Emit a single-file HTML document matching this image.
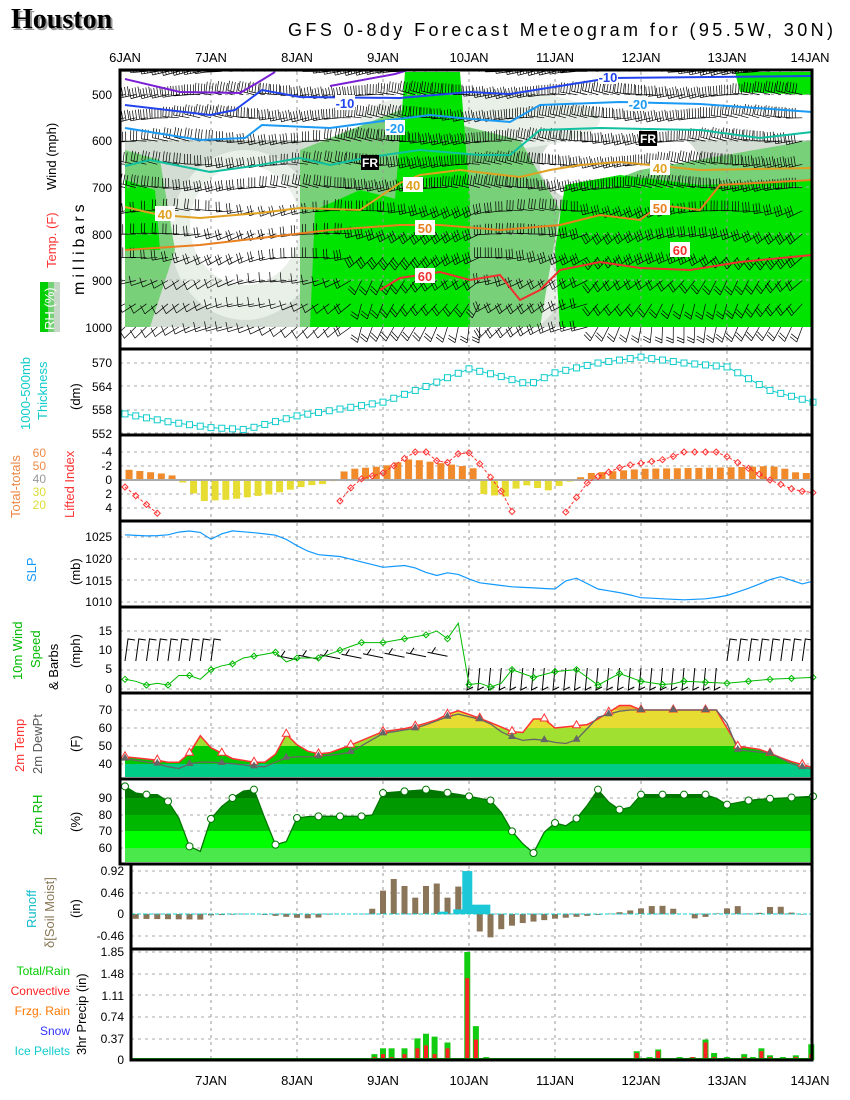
<!DOCTYPE html>
<html><head><meta charset="utf-8">
<style>
html,body{margin:0;padding:0;background:#fff;}
svg{display:block;font-family:"Liberation Sans",sans-serif;}
</style></head>
<body>
<svg id="s" width="850" height="1100" viewBox="0 0 850 1100" xmlns="http://www.w3.org/2000/svg">
<defs><clipPath id="ctop"><rect x="121" y="71" width="690" height="276"/></clipPath></defs>
<rect width="850" height="1100" fill="#fff"/>
<text x="13" y="30" font-family="Liberation Serif,serif" font-size="28" font-weight="bold" fill="#999">Houston</text>
<text x="11" y="28" font-family="Liberation Serif,serif" font-size="28" font-weight="bold" fill="#000">Houston</text>
<text x="288" y="36" font-size="18" fill="#000" textLength="545">GFS 0-8dy Forecast Meteogram for (95.5W, 30N)</text>
<g font-size="13" text-anchor="middle" fill="#000">
<text x="125" y="62">6JAN</text><text x="211" y="62">7JAN</text><text x="297" y="62">8JAN</text><text x="383" y="62">9JAN</text><text x="469" y="62">10JAN</text><text x="555" y="62">11JAN</text><text x="641" y="62">12JAN</text><text x="727" y="62">13JAN</text><text x="810" y="62">14JAN</text>
<text x="211" y="1085">7JAN</text><text x="297" y="1085">8JAN</text><text x="383" y="1085">9JAN</text><text x="469" y="1085">10JAN</text><text x="555" y="1085">11JAN</text><text x="641" y="1085">12JAN</text><text x="727" y="1085">13JAN</text><text x="810" y="1085">14JAN</text>
</g>
<g id="top">
<rect x="125" y="140" width="687" height="187" fill="#d3ddd3"/>
<ellipse cx="245" cy="235" rx="75" ry="85" fill="#e8f0e8"/>
<ellipse cx="245" cy="225" rx="55" ry="60" fill="#fff"/>
<ellipse cx="505" cy="290" rx="55" ry="45" fill="#e8f0e8"/>
<ellipse cx="505" cy="290" rx="35" ry="30" fill="#fff"/>
<ellipse cx="620" cy="165" rx="80" ry="45" fill="#fff"/>
<rect x="125" y="70" width="687" height="70" fill="#fff"/>
<ellipse cx="480" cy="120" rx="120" ry="30" fill="#e8f0e8"/>
<path d="M125,150 L160,160 L175,250 L150,327 L125,327Z" fill="#78d078"/>
<path d="M300,150 L400,110 L520,140 L560,210 L540,327 L300,327 Z" fill="#78d078"/>
<path d="M560,200 L640,170 L812,140 L812,327 L560,327Z" fill="#78d078"/>
<path d="M125,180 L155,190 L160,250 L125,250Z" fill="#00e400"/>
<path d="M405,72 L460,72 L470,200 L470,327 L400,327 L395,200Z" fill="#00e400"/>
<path d="M315,210 L360,190 L400,200 L400,327 L310,327Z" fill="#00e400"/>
<path d="M565,185 L620,175 L700,185 L812,180 L812,327 L560,327 L555,250Z" fill="#00e400"/>
<path d="M735,72 L812,72 L812,95 L740,92Z" fill="#00e400"/>
<rect x="120" y="327" width="692" height="22" fill="#fff"/>
</g>
<g id="dyn"></g>
<g id="frames" fill="none" stroke="#000" stroke-width="3">
<rect x="120" y="70" width="692" height="279"/>
<rect x="120" y="349" width="692" height="86"/>
<rect x="120" y="435" width="692" height="86"/>
<rect x="120" y="521" width="692" height="86"/>
<rect x="120" y="607" width="692" height="86"/>
<rect x="120" y="693" width="692" height="86"/>
<rect x="120" y="779" width="692" height="85"/>
<rect x="131" y="864" width="681" height="85"/>
<rect x="131" y="949" width="681" height="111"/>
</g>
<g font-size="12" text-anchor="end" fill="#000">
<text x="112" y="99">500</text><text x="112" y="145">600</text><text x="112" y="192">700</text><text x="112" y="239">800</text><text x="112" y="285">900</text><text x="112" y="332">1000</text>
<text x="112" y="367">570</text><text x="112" y="391">564</text><text x="112" y="414">558</text><text x="112" y="438">552</text>
<text x="112" y="456">-4</text><text x="112" y="470">-2</text><text x="112" y="484">0</text><text x="112" y="498">2</text><text x="112" y="512">4</text>
<text x="112" y="541">1025</text><text x="112" y="563">1020</text><text x="112" y="585">1015</text><text x="112" y="606">1010</text>
<text x="112" y="635">15</text><text x="112" y="654">10</text><text x="112" y="673">5</text><text x="112" y="693">0</text>
<text x="112" y="714">70</text><text x="112" y="732">60</text><text x="112" y="750">50</text><text x="112" y="768">40</text>
<text x="112" y="802">90</text><text x="112" y="819">80</text><text x="112" y="835">70</text><text x="112" y="852">60</text>
<text x="124" y="875">0.92</text><text x="124" y="897">0.46</text><text x="124" y="918">0</text><text x="124" y="940">-0.46</text>
<text x="124" y="956">1.85</text><text x="124" y="978">1.48</text><text x="124" y="1000">1.11</text><text x="124" y="1021">0.74</text><text x="124" y="1043">0.37</text><text x="124" y="1064">0</text>
</g>
<g font-size="13">
<text transform="translate(56,190) rotate(-90)" fill="#000">Wind (mph)</text>
<text transform="translate(56,268) rotate(-90)" fill="#f33">Temp. (F)</text>
<text transform="translate(84,295) rotate(-90)" fill="#000" font-size="16" letter-spacing="4">millibars</text>
<rect x="40" y="282" width="20" height="50" fill="#00d000"/><rect x="48" y="282" width="12" height="50" fill="#78d078"/><rect x="54" y="282" width="6" height="50" fill="#c8d8c8"/>
<text transform="translate(54,330) rotate(-90)" fill="#fff">RH (%)</text>
<text transform="translate(30,430) rotate(-90)" fill="#1cc">1000-500mb</text>
<text transform="translate(47,420) rotate(-90)" fill="#1cc">Thickness</text>
<text transform="translate(80,410) rotate(-90)" fill="#000">(dm)</text>
<text transform="translate(74,518) rotate(-90)" fill="#f33">Lifted Index</text>
<text transform="translate(20,518) rotate(-90)" fill="#e84">Total-totals</text>
<g font-size="12" text-anchor="end"><text x="46" y="457" fill="#e84">60</text><text x="46" y="470" fill="#e84">50</text><text x="46" y="483" fill="#999">40</text><text x="46" y="496" fill="#dd3">30</text><text x="46" y="509" fill="#dd3">20</text></g>
<text transform="translate(36,582) rotate(-90)" fill="#19f">SLP</text>
<text transform="translate(80,585) rotate(-90)" fill="#000">(mb)</text>
<text transform="translate(22,680) rotate(-90)" fill="#0b0">10m Wind</text>
<text transform="translate(40,668) rotate(-90)" fill="#0b0">Speed</text>
<text transform="translate(58,690) rotate(-90)" fill="#000">&amp; Barbs</text>
<text transform="translate(80,668) rotate(-90)" fill="#000">(mph)</text>
<text transform="translate(24,772) rotate(-90)" fill="#f33">2m Temp</text>
<text transform="translate(42,774) rotate(-90)" fill="#555">2m DewPt</text>
<text transform="translate(80,752) rotate(-90)" fill="#000">(F)</text>
<text transform="translate(42,835) rotate(-90)" fill="#0b0">2m RH</text>
<text transform="translate(80,832) rotate(-90)" fill="#000">(%)</text>
<text transform="translate(36,928) rotate(-90)" fill="#1bc">Runoff</text>
<text transform="translate(54,948) rotate(-90)" fill="#875">δ[Soil Moist]</text>
<text transform="translate(80,918) rotate(-90)" fill="#000">(in)</text>
<text transform="translate(86,1055) rotate(-90)" fill="#000">3hr Precip (in)</text>
<g text-anchor="end" font-size="12"><text x="70" y="975" fill="#0c0">Total/Rain</text><text x="70" y="995" fill="#f22">Convective</text><text x="70" y="1015" fill="#f70">Frzg. Rain</text><text x="70" y="1035" fill="#33f">Snow</text><text x="70" y="1055" fill="#1cc">Ice Pellets</text></g>
</g>
</svg>
<script>
(function(){
var g=document.getElementById("dyn"),h="";
function X(d){return 125+d*86;}
function L(k,d){if(d<=k[0][0])return k[0][1];for(var i=1;i<k.length;i++){if(d<=k[i][0]){var a=k[i-1],b=k[i];return a[1]+(b[1]-a[1])*(d-a[0])/(b[0]-a[0]);}}return k[k.length-1][1];}
function pts(k,f){var s=[];for(var i=0;i<=64;i++){var d=i/8;s.push([X(d),f(L(k,d))]);}return s;}
function pl(p,st){return '<polyline points="'+p.map(function(q){return q[0].toFixed(1)+","+q[1].toFixed(1)}).join(" ")+'" fill="none" '+st+'/>';}
function pl2(p,st){return '<polyline points="'+p.map(function(q){return q[0]+","+q[1]}).join(" ")+'" fill="none" '+st+'/>';}
var panels=[[70,349,[94.6,141,187,234,280]],[349,435,[363,386,410,433]],[435,521,[452,466,480,494,508]],[521,607,[537,559,580,602]],[607,693,[631,650,670,689]],[693,779,[710,728,746,764]],[779,864,[798,815,831,848]],[864,949,[871,893,914,936]],[949,1060,[952,974,995,1017,1039]]];
panels.forEach(function(p,i){for(var d=1;d<8;d++)h+='<line x1="'+X(d)+'" y1="'+(p[0]+2)+'" x2="'+X(d)+'" y2="'+(p[1]-2)+'" stroke="#999" stroke-dasharray="3,4"/>';
 var x0=i>=7?131:120;p[2].forEach(function(y){h+='<line x1="'+x0+'" y1="'+y+'" x2="812" y2="'+y+'" stroke="#aaa" stroke-dasharray="3,4"/>';});});
var C=[["#7b1fd6",[[125,79],[180,92],[240,93],[262,80],[275,72]]],["#7b1fd6",[[330,86],[395,74],[408,70]]],
["#2244ee",[[125,105],[210,115],[235,110],[262,90],[300,97],[400,98],[470,92],[510,94],[560,86],[610,78],[812,76]]],
["#1a9af5",[[125,128],[200,140],[245,138],[262,125],[330,128],[390,120],[430,115],[460,118],[510,122],[540,105],[620,102],[700,104],[812,112]]],
["#10c0a0",[[125,166],[150,160],[210,172],[260,165],[300,158],[330,165],[370,157],[420,150],[480,155],[510,155],[540,130],[600,128],[700,130],[760,138],[812,132]]],
["#e0a020",[[125,207],[160,215],[200,218],[260,213],[300,208],[360,210],[400,183],[420,175],[460,170],[520,177],[550,170],[580,165],[620,162],[700,170],[812,168]]],
["#e88020",[[125,250],[200,245],[330,230],[400,225],[440,225],[500,230],[560,225],[600,215],[640,220],[660,205],[700,210],[720,185],[812,180]]],
["#f03030",[[380,290],[400,278],[440,272],[470,280],[500,275],[520,300],[540,290],[560,270],[600,262],[640,268],[690,270],[740,262],[812,255]]]];
var bb="";
for(var i=0;i<=64;i++){var d=i/8;for(var p=1000;p>=450;p-=50){var x=X(d),y=327-(1000-p)*0.4648;if(x>810)continue;
 var lvl=(1000-p)/550;var ang=(lvl>0.5?0:((d>2.7&&d<4.2)||d>5.4?75:30)*(1-lvl*1.8))+Math.sin(d*3+p/50)*15;
 var r=ang*Math.PI/180,len=16,ex=x-len*Math.cos(r),ey=y-len*Math.sin(r)*(lvl>0.5?1:-1);
 bb+="M"+x.toFixed(1)+","+y.toFixed(1)+"L"+ex.toFixed(1)+","+ey.toFixed(1);
 var nf=Math.min(4,1+Math.floor(lvl*4+(d>2.5?1:0)));var dx=(x-ex)/len,dy=(y-ey)/len;
 for(var f=0;f<nf;f++){var fx=ex+dx*f*3,fy=ey+dy*f*3;bb+="M"+fx.toFixed(1)+","+fy.toFixed(1)+"l"+(dy*7).toFixed(1)+","+(-dx*7-3).toFixed(1);}}}
h+='<g clip-path="url(#ctop)"><path d="'+bb+'" stroke="#000" stroke-width="0.7" fill="none"/></g>';
C.forEach(function(c){h+=pl2(c[1],'stroke="'+c[0]+'" stroke-width="2"');});
function lab(x,y,t,c){h+='<rect x="'+(x-10)+'" y="'+(y-8)+'" width="20" height="15" fill="#fff"/><text x="'+x+'" y="'+(y+5)+'" font-size="13" font-weight="bold" text-anchor="middle" fill="'+c+'">'+t+'</text>';}
lab(165,214,"40","#e0a020");lab(413,185,"40","#e0a020");lab(425,228,"50","#e88020");lab(425,276,"60","#f03030");lab(660,168,"40","#e0a020");lab(660,208,"50","#e88020");lab(680,250,"60","#f03030");
lab(395,128,"-20","#1a9af5");lab(345,103,"-10","#2244ee");lab(608,77,"-10","#2244ee");lab(638,104,"-20","#1a9af5");
h+='<rect x="361" y="155" width="18" height="15" fill="#000"/><text x="370" y="167" font-size="12" font-weight="bold" fill="#fff" text-anchor="middle">FR</text>';
h+='<rect x="639" y="131" width="18" height="15" fill="#000"/><text x="648" y="143" font-size="12" font-weight="bold" fill="#fff" text-anchor="middle">FR</text>';
var TH=[[0,557],[0.5,555],[1,553.5],[1.4,553],[2,556.5],[3,560],[3.5,564],[4,568.5],[4.3,567],[4.7,564.5],[5,567.5],[5.5,570],[6,571.5],[6.5,570],[7,569],[7.5,563],[8,560]];
var tp=pts(TH,function(v){return 363+(570-v)*23.5/6;});h+=pl(tp,'stroke="#1cc" stroke-width="1"');
tp.forEach(function(q){h+='<rect x="'+(q[0]-3)+'" y="'+(q[1]-3)+'" width="6" height="6" fill="#fff" stroke="#1cc"/>';});
var LB=[[0,-1.5],[0.5,-0.8],[0.625,-0.2],[0.7,1.2],[0.9,3],[1.2,2.8],[1.7,2],[2.1,0.8],[2.35,0.5],[2.45,-0.1],[2.55,-1.5],[3,-2],[3.3,-3],[3.6,-2.5],[3.9,-2],[4.1,-1.5],[4.15,2],[4.4,2.4],[4.6,0.6],[4.9,1.5],[5.1,0.5],[5.4,-1],[6,-1.6],[7,-1.8],[7.5,-2],[7.7,-1.5],[7.8,-1],[8,-1]];
for(var i=0;i<64;i++){var d=i/8+0.03,v=L(LB,d),y0=480,y1=480+v*7;h+='<rect x="'+(X(d)-2)+'" y="'+Math.min(y0,y1)+'" width="7" height="'+Math.abs(y1-y0)+'" fill="'+(v<0?"#f08a2a":"#e6dc32")+'"/>';}
h+='<line x1="120" y1="480" x2="812" y2="480" stroke="#aaa" stroke-width="2"/>';
var LI=[[0,1],[0.4,5],[0.6,9],[2.35,9],[2.5,3],[2.7,0],[3,-1],[3.3,-3.5],[3.45,-4.5],[3.7,-2],[3.95,-4.5],[4.15,-2],[4.4,2],[4.6,7],[4.9,9],[5.1,5],[5.4,0],[5.8,-2],[6.3,-3],[6.5,-4],[6.9,-4],[7.2,-2],[7.5,0],[7.8,1.5],[8,1.8]];
var lp=pts(LI,function(v){return 480+v*7;}).filter(function(q){return q[1]<519;});
var seg=[];lp.forEach(function(q,i){if(i>0&&q[0]-lp[i-1][0]>12){h+=pl(seg,'stroke="#f33" stroke-dasharray="3,2"');seg=[];}seg.push(q);});h+=pl(seg,'stroke="#f33" stroke-dasharray="3,2"');
lp.forEach(function(q){h+='<path d="M'+q[0]+','+(q[1]-3)+'l3,3l-3,3l-3,-3z" fill="none" stroke="#f33"/>';});
var SL=[[0,1025.5],[0.3,1025.2],[0.5,1025.5],[0.7,1026.5],[0.9,1026],[1,1024.5],[1.2,1026.5],[1.5,1026],[1.8,1025.3],[2,1023],[2.2,1021],[2.5,1020.5],[2.8,1019],[3,1018],[3.3,1018.5],[3.6,1016],[3.8,1017],[4.1,1014.5],[4.5,1013.5],[5,1013],[5.2,1016],[5.5,1013],[5.8,1012],[6,1011],[6.5,1010.5],[6.8,1010.8],[7,1011.5],[7.3,1013.5],[7.6,1016],[7.9,1014],[8,1014.8]];
h+=pl(pts(SL,function(v){return 537+(1025-v)*65/15;}),'stroke="#19f" stroke-width="1.2"');
var WS=[[0,2.5],[0.125,2],[0.25,1],[0.375,1.5],[0.5,1],[0.625,3.5],[0.75,3.5],[0.875,2.5],[1,5],[1.125,6],[1.25,6.5],[1.375,8],[1.5,8.5],[1.75,9.5],[1.875,7],[2,8],[2.25,8],[2.375,9],[2.5,10],[2.625,11],[2.75,12],[3,12],[3.5,14],[3.625,15],[3.75,13],[3.875,17],[3.95,1],[4.125,1.5],[4.25,0.5],[4.375,1.5],[4.5,5],[4.75,3],[5,4.5],[5.25,5],[5.5,1],[5.75,4],[6,2],[6.3,1],[6.5,2],[7,1.5],[7.5,2.5],[8,3]];
var wb="";for(var i=0;i<=64;i++){var d=i/8,x=X(d);if(x>808)continue;
 if(d<1.9||d>6.9){if(d>1.1&&d<1.9)continue;var y=651;wb+="M"+x.toFixed(1)+","+(y+10)+"L"+(x+3).toFixed(1)+","+(y-12)+"l7,1";}
 else if(d<3.95){if(i%2)continue;var y=660-(d-1.9)*2;wb+="M"+x.toFixed(1)+","+y+"l-20,-4m4,1l4,-6";}
 else {var y=668;wb+="M"+x.toFixed(1)+","+y+"l-2,22l6,-3";}}
h+='<path d="'+wb+'" stroke="#000" stroke-width="1" fill="none"/>';
var wp=pts(WS,function(v){return 689-v*3.87;});h+=pl(wp,'stroke="#0b0"');
wp.forEach(function(q,i){if(i%2==0)h+='<path d="M'+q[0]+','+(q[1]-3)+'l3,3l-3,3l-3,-3z" fill="none" stroke="#0b0"/>';});
var TT=[[0,44],[0.4,42],[0.6,40],[0.75,46],[0.85,57],[1,49],[1.25,43],[1.5,41],[1.7,41],[1.88,57],[2.05,48],[2.3,45],[2.6,50],[3,58],[3.3,60],[3.6,64],[3.85,70],[4.15,65],[4.4,60],[4.6,56],[4.8,68],[5,60],[5.4,62],[5.8,74],[6,70],[6.5,70],[6.9,70],[7.1,50],[7.4,48],[7.7,42],[8,38]];
var DP=[[0,43],[0.4,40],[0.6,37],[0.8,41],[1,41],[1.3,40],[1.6,38],[1.9,44],[2.2,44],[2.6,46],[3,57],[3.4,60],[3.85,68],[4.2,64],[4.4,57],[4.6,53],[4.8,54],[5,52],[5.2,51],[5.5,66],[5.8,70],[6.5,70],[6.95,70],[7.1,48],[7.5,46],[7.8,39],[8,37]];
function ty(v){return 710+(70-v)*1.8;}
var tt=pts(TT,ty),poly=tt.map(function(q){return q[0]+","+q[1]}).join(" ")+" 812,777 125,777";
h+='<clipPath id="ct"><polygon points="'+poly+'"/></clipPath><g clip-path="url(#ct)"><rect x="120" y="693" width="692" height="17" fill="#e6b030"/><rect x="120" y="710" width="692" height="18" fill="#e6dc32"/><rect x="120" y="728" width="692" height="18" fill="#a0e030"/><rect x="120" y="746" width="692" height="18" fill="#00c800"/><rect x="120" y="764" width="692" height="15" fill="#00cc88"/></g>';
h+=pl(tt,'stroke="#f33" stroke-width="1.5"');var dp=pts(DP,ty);h+=pl(dp,'stroke="#666" stroke-width="1.3"');
tt.forEach(function(q,i){if(i%3==0)h+='<path d="M'+q[0]+','+(q[1]-5)+'l4,7h-8z" fill="#fff" stroke="#f33"/>';});
dp.forEach(function(q,i){if(i%3==0)h+='<path d="M'+q[0]+','+(q[1]-5)+'l4,7h-8z" fill="#666"/>';});
var RH=[[0,97],[0.125,93],[0.25,92],[0.375,92],[0.5,88],[0.65,76],[0.75,61],[0.85,53],[0.95,73],[1.05,82],[1.2,88],[1.35,94],[1.5,95],[1.6,81],[1.75,62],[1.85,61],[2,78],[2.15,79],[2.5,79],[2.75,79],[2.9,80],[3,93],[3.5,95],[3.9,92],[4.3,88],[4.5,70],[4.7,58],[4.8,56],[4.9,74],[5,75],[5.15,73],[5.3,80],[5.5,95],[5.7,83],[5.85,83],[6,92],[6.5,92],[6.8,92],[7,86],[7.3,89],[8,91]];
function ry(v){return 798+(90-v)*1.667;}var rp=pts(RH,ry);
h+='<clipPath id="cr"><polygon points="'+rp.map(function(q){return q[0]+","+q[1]}).join(" ")+' 812,862 125,862"/></clipPath><g clip-path="url(#cr)"><rect x="120" y="779" width="692" height="19" fill="#007800"/><rect x="120" y="798" width="692" height="17" fill="#009a00"/><rect x="120" y="815" width="692" height="16" fill="#00b800"/><rect x="120" y="831" width="692" height="17" fill="#00ff00"/><rect x="120" y="848" width="692" height="16" fill="#4be84b"/></g>';
h+=pl(rp,'stroke="#070" stroke-width="1.3"');rp.forEach(function(q,i){if(i%2==0)h+='<circle cx="'+q[0]+'" cy="'+q[1]+'" r="3.5" fill="#fff" stroke="#070"/>';});
var SM=[[0,-0.1],[0.9,-0.12],[1,-0.03],[1.5,0],[2,-0.08],[2.2,-0.1],[2.4,0],[2.8,0],[2.9,0.15],[3,0.5],[3.1,0.78],[3.25,0.6],[3.4,0.3],[3.5,0.6],[3.6,0.72],[3.7,0.45],[3.8,0.25],[3.9,0.7],[4,0.5],[4.1,-0.3],[4.2,-0.6],[4.3,-0.4],[4.4,-0.3],[4.6,-0.2],[5,-0.1],[5.5,-0.02],[5.8,0.05],[6,0.12],[6.2,0.2],[6.4,0.1],[6.6,-0.1],[6.8,-0.05],[7,0.12],[7.1,0.2],[7.3,-0.05],[7.5,0.15],[7.6,0.18],[7.8,-0.02],[8,0]];
for(var i=1;i<64;i++){var d=i/8,v=L(SM,d),y1=914-v*46.7;h+='<rect x="'+(X(d)-3)+'" y="'+Math.min(914,y1)+'" width="6" height="'+Math.abs(y1-914)+'" fill="#8a7558"/>';}
[[3.7,0.05],[3.875,0.1],[3.98,0.92],[4.08,0.2],[4.19,0.2]].forEach(function(r){var y1=914-r[1]*46.7;h+='<rect x="'+(X(r[0])-5)+'" y="'+y1+'" width="10" height="'+(914-y1)+'" fill="#1cc8d8"/>';});
h+='<line x1="131" y1="914" x2="812" y2="914" stroke="#1cc" stroke-dasharray="4,2"/>';
var PR=[[2.9,0.1,0.05],[3.0,0.2,0.1],[3.1,0.2,0.05],[3.25,0.2,0.1],[3.4,0.37,0.2],[3.5,0.45,0.25],[3.6,0.4,0.1],[3.75,0.3,0.2],[3.98,1.85,1.4],[4.08,0.58,0.35],[4.2,0.05,0],[5.85,0.03,0.02],[5.95,0.15,0.12],[6.1,0.05,0.03],[6.2,0.18,0.15],[6.3,0.03,0.02],[6.45,0.05,0.03],[6.6,0.05,0.05],[6.75,0.35,0.3],[6.85,0.12,0.05],[7,0.05,0.03],[7.2,0.1,0.05],[7.3,0.05,0.02],[7.4,0.2,0.15],[7.5,0.08,0.05],[7.65,0.05,0.03],[7.8,0.08,0.05],[7.98,0.27,0.1]];
PR.forEach(function(r){var x=X(r[0])-3;h+='<rect x="'+x+'" y="'+(1060-r[1]*58.4)+'" width="6" height="'+(r[1]*58.4)+'" fill="#1c1"/><rect x="'+(x+1)+'" y="'+(1060-r[2]*58.4)+'" width="4" height="'+(r[2]*58.4)+'" fill="#f22"/>';});
h+='<line x1="131" y1="1059" x2="812" y2="1059" stroke="#1c1" stroke-width="2"/>';
g.innerHTML=h;
})();
</script>
</body></html>
